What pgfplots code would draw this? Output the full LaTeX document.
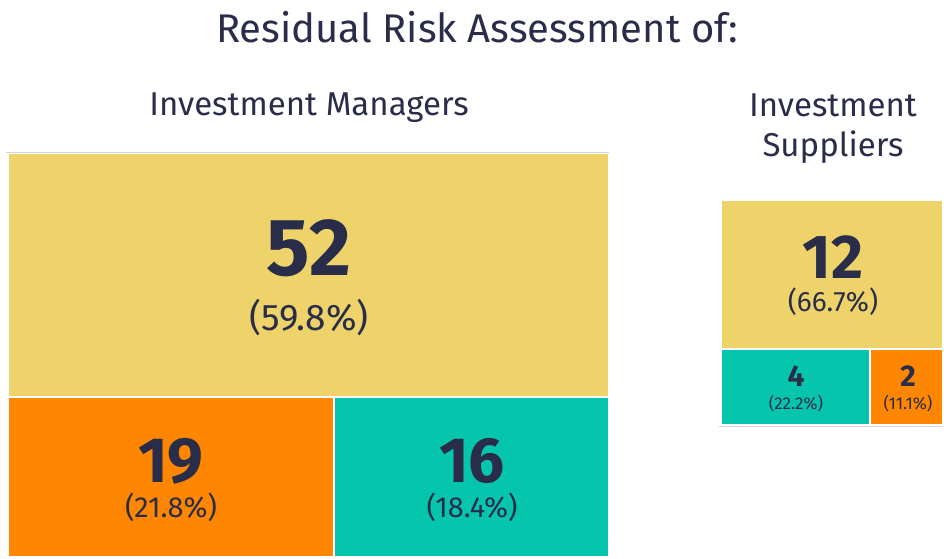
\documentclass[border=0pt]{standalone}
\usepackage{pgfplots}
\pgfplotsset{compat=1.18}
\usepackage{fontspec}
\setmainfont{Fira Sans}
\definecolor{tyellow}{HTML}{EDD36A}
\definecolor{torange}{HTML}{FF8600}
\definecolor{tteal}{HTML}{05C6AD}
\definecolor{ttext}{HTML}{2A2D4A}
\definecolor{tgray}{HTML}{D4D4D4}
\begin{document}
\begin{tikzpicture}
\begin{axis}[
  scale only axis, width=944pt, height=558pt,
  xmin=0, xmax=944, ymin=0, ymax=558, y dir=reverse,
  hide axis, clip=false,
  every axis plot/.append style={draw=white, line width=2pt},
]
% Investment Managers (total 87): rectangles
\addplot[fill=tyellow] coordinates {(8,153) (609,153) (609,397) (8,397) (8,153)};
\addplot[fill=torange] coordinates {(8,397) (334,397) (334,557) (8,557) (8,397)};
\addplot[fill=tteal] coordinates {(334,397) (609,397) (609,557) (334,557) (334,397)};
% Investment Suppliers (total 18)
\addplot[fill=tyellow] coordinates {(721,200) (943,200) (943,349) (721,349) (721,200)};
\addplot[fill=tteal] coordinates {(721,349) (870,349) (870,425) (721,425) (721,349)};
\addplot[fill=torange] coordinates {(870,349) (943,349) (943,425) (870,425) (870,349)};
% thin gray borders
\addplot[draw=tgray, line width=1pt] coordinates {(6,152) (609,152)};
\addplot[draw=tgray, line width=1pt] coordinates {(719,426.5) (943,426.5)};

% titles
\node[text=ttext, font=\fontsize{40}{44}\selectfont] at (axis cs:477,27) {Residual Risk Assessment of:};
\node[text=ttext, font=\fontsize{33}{36}\selectfont] at (axis cs:309,108) {Investment Managers};
\node[text=ttext, font=\fontsize{33}{40}\selectfont, align=center] at (axis cs:833,129) {Investment\\Suppliers};

% labels
\node[text=ttext, font=\fontsize{81}{81}\bfseries\selectfont] at (axis cs:309,248) {52};
\node[text=ttext, font=\fontsize{37}{40}\selectfont] at (axis cs:309,318) {(59.8\%)};
\node[text=ttext, font=\fontsize{64}{64}\bfseries\selectfont] at (axis cs:171,461) {19};
\node[text=ttext, font=\fontsize{29}{32}\selectfont] at (axis cs:171,507) {(21.8\%)};
\node[text=ttext, font=\fontsize{64}{64}\bfseries\selectfont] at (axis cs:472,461) {16};
\node[text=ttext, font=\fontsize{29}{32}\selectfont] at (axis cs:472,507) {(18.4\%)};
\node[text=ttext, font=\fontsize{62}{62}\bfseries\selectfont] at (axis cs:833,257) {12};
\node[text=ttext, font=\fontsize{28}{30}\selectfont] at (axis cs:833,302) {(66.7\%)};
\node[text=ttext, font=\fontsize{30}{30}\bfseries\selectfont] at (axis cs:796,376) {4};
\node[text=ttext, font=\fontsize{17}{18}\selectfont] at (axis cs:796,404) {(22.2\%)};
\node[text=ttext, font=\fontsize{30}{30}\bfseries\selectfont] at (axis cs:908,376) {2};
\node[text=ttext, font=\fontsize{17}{18}\selectfont] at (axis cs:908,404) {(11.1\%)};
\end{axis}
\pgfresetboundingbox
\useasboundingbox (current axis.south west) rectangle (current axis.north east);
\end{tikzpicture}
\end{document}
